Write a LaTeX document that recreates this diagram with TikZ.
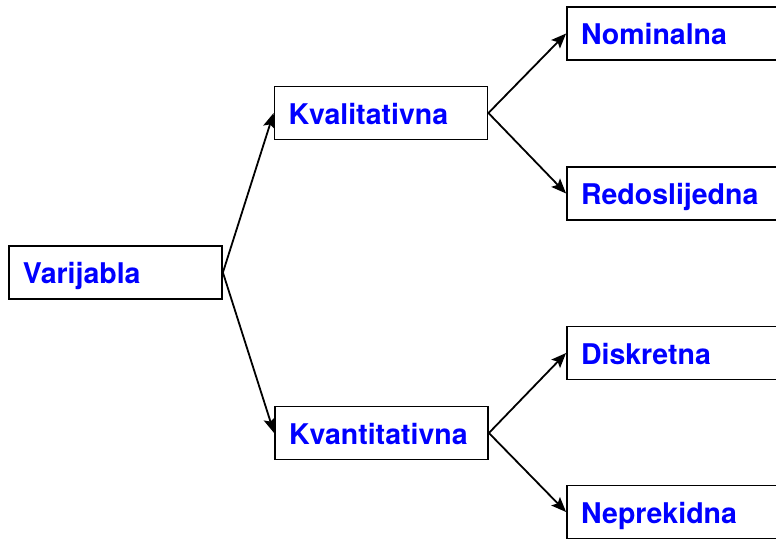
\documentclass[tikz,border=0pt]{standalone}
\usepackage{fontspec}
\setmainfont{TeX Gyre Heros}
\usetikzlibrary{arrows.meta}
\definecolor{labelblue}{RGB}{0,0,255}
\begin{document}
\begin{tikzpicture}[x=1pt,y=-1pt,
  box/.style={draw=black, line width=1.8pt, fill=white, minimum width=213pt, minimum height=53pt,
    inner xsep=14pt, text width=185pt, align=left, text height=26pt, text depth=4pt,
    font=\fontsize{28.5}{30}\selectfont\bfseries, text=labelblue},
  conn/.style={line width=1.8pt, -{Stealth[length=15pt,width=12pt,inset=3pt]}}]
\useasboundingbox (0,0) rectangle (776,538);
\clip (0,0) rectangle (776,538);
\fill[white] (0,0) rectangle (776,538);
\node[box] (var) at (115.5,272.5) {Varijabla};
\node[box] (kval) at (381,113) {Kvalitativna};
\node[box] (kvan) at (381.5,433) {Kvantitativna};
\node[box] (nom) at (673.5,33.5) {Nominalna};
\node[box] (red) at (673.5,193.5) {Redoslijedna};
\node[box] (dis) at (673.5,353) {Diskretna};
\node[box] (nep) at (673.5,512) {Neprekidna};
\draw[conn] (var.east) -- (kval.west);
\draw[conn] (var.east) -- (kvan.west);
\draw[conn] (kval.east) -- (nom.west);
\draw[conn] (kval.east) -- (red.west);
\draw[conn] (kvan.east) -- (dis.west);
\draw[conn] (kvan.east) -- (nep.west);
\end{tikzpicture}
\end{document}
